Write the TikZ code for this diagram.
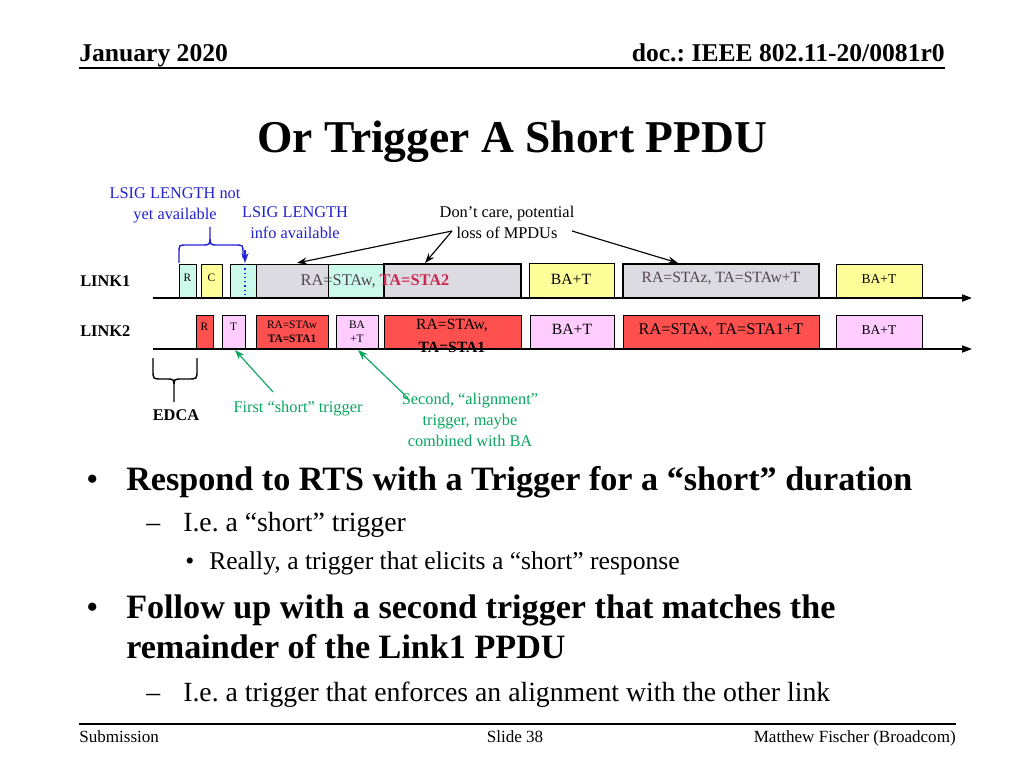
\documentclass[tikz,border=0pt]{standalone}
\usepackage{fontspec}
\setmainfont{Liberation Serif}
\usepackage{tikz}
\usetikzlibrary{arrows.meta}
\definecolor{cyanfill}{RGB}{204,250,234}
\definecolor{yellowfill}{RGB}{255,255,153}
\definecolor{grayfill}{RGB}{221,219,226}
\definecolor{redfill}{RGB}{255,80,80}
\definecolor{pinkfill}{RGB}{255,204,255}
\definecolor{notblue}{RGB}{34,34,210}
\definecolor{notgreen}{RGB}{10,165,95}
\definecolor{stared}{RGB}{204,40,80}
\definecolor{txtgray}{RGB}{80,70,80}
\frenchspacing

\begin{document}
\begin{tikzpicture}[x=0.703125pt,y=-0.703125pt,
  box/.style={draw=black,line width=0.6pt},
  heavybox/.style={draw=black,line width=1.2pt},
  small/.style={inner sep=0pt,align=center,font=\fontsize{8}{10}\selectfont},
  lbl/.style={inner sep=0pt,align=center,font=\fontsize{11.5}{14.8}\selectfont},
  timeline/.style={line width=1pt,-{Triangle[length=7pt,width=5pt]}},
  callout/.style={line width=0.8pt,-{Stealth[length=7pt,width=5pt]}}]
  \useasboundingbox (0,0) rectangle (1024,768);
  \fill[white] (0,0) rectangle (1024,768);

  \node[anchor=base west,inner sep=0pt,font=\fontsize{18}{20}\selectfont\bfseries]
  (date) at (79,62) {January 2020};
  \node[anchor=base east,inner sep=0pt,font=\fontsize{18}{20}\selectfont\bfseries]
  (doc) at (945,62) {doc.: IEEE 802.11-20/0081r0};
  \draw[line width=1.4pt] (79,68) -- (945,68);
  \node[anchor=base,inner sep=0pt,font=\fontsize{32}{36}\selectfont\bfseries]
  (title) at (512,153) {Or Trigger A Short PPDU};

  \draw[box,fill=cyanfill] (179,264) rectangle (196,298);
  \draw[box,fill=yellowfill] (201,264) rectangle (222,298);
  \draw[box,fill=cyanfill] (230,264) rectangle (521,298);
  \draw[box,fill=grayfill] (256,264) rectangle (328,298);
  \draw[heavybox,fill=grayfill] (384,264) rectangle (521,298);
  \draw[box,fill=yellowfill] (529,263) rectangle (614,298);
  \draw[heavybox,fill=grayfill] (623,264) rectangle (819,298);
  \draw[box,fill=yellowfill] (836,264) rectangle (922,298);
  \draw[notblue,dotted,line width=1pt] (245,264) -- (245,298);
  \node[small] (r1) at (187.5,278) {R};
  \node[small] (c1) at (211.5,278) {C};
  \node[lbl,text=txtgray] (ppdu1) at (375,281)
  {RA=STAw, \textcolor{stared}{\bfseries TA=STA2}};
  \node[lbl,font=\fontsize{11}{13}\selectfont] (ba1) at (571,279) {BA+T};
  \node[lbl,text=txtgray,font=\fontsize{11}{13}\selectfont] (ppdu2) at (721,279)
  {RA=STAz, TA=STAw+T};
  \node[lbl,font=\fontsize{9.5}{12}\selectfont] (ba2) at (879,279) {BA+T};

  \draw[box,fill=redfill] (196,315) rectangle (213,349);
  \draw[box,fill=pinkfill] (222,315) rectangle (245,349);
  \draw[box,fill=redfill] (256,315) rectangle (328,349);
  \draw[box,fill=pinkfill] (336,315) rectangle (378,349);
  \draw[box,fill=redfill] (384,315) rectangle (521,349);
  \draw[box,fill=pinkfill] (530,315) rectangle (614,349);
  \draw[box,fill=redfill] (623,315) rectangle (819,349);
  \draw[box,fill=pinkfill] (836,315) rectangle (922,349);
  \node[small] (r2) at (204.5,327) {R};
  \node[small] (t2) at (233.5,327) {T};
  \node[small] (ppdu3) at (292,332) {RA=STAw\\\bfseries TA=STA1};
  \node[small] (ba3) at (357,332) {BA\\+T};
  \node[lbl,font=\fontsize{11}{16.5}\selectfont] (ppdu4) at (452,336)
  {RA=STAw,\\\bfseries TA=STA1};
  \node[lbl,font=\fontsize{11}{13}\selectfont] (ba4) at (572,329) {BA+T};
  \node[lbl] (ppdu5) at (721,330) {RA=STAx, TA=STA1+T};
  \node[lbl,font=\fontsize{9.5}{12}\selectfont] (ba5) at (879,330) {BA+T};

  \draw[timeline] (153,298) -- (972,298);
  \draw[timeline] (153,349) -- (972,349);
  \node[lbl,anchor=west,font=\fontsize{11.5}{14}\selectfont\bfseries]
  (link1) at (80,281) {LINK1};
  \node[lbl,anchor=west,font=\fontsize{11.5}{14}\selectfont\bfseries]
  (link2) at (80,331) {LINK2};

  \node[lbl,text=notblue] (notyet) at (175,205.5) {LSIG LENGTH not\\yet available};
  \node[lbl,text=notblue] (info) at (295,222.5) {LSIG LENGTH\\info available};
  \node[lbl] (dontcare) at (507,222.5) {Don’t care, potential\\loss of MPDUs};
  \node[lbl,text=notgreen] (first) at (298,409) {First “short” trigger};
  \node[lbl,text=notgreen] (second) at (470,420)
  {Second, “alignment”\\trigger, maybe\\combined with BA};
  \node[lbl,font=\fontsize{11.5}{14}\selectfont\bfseries] (edca) at (176,415) {EDCA};

  \draw[notblue,line width=1pt]
  (179,263) -- (179,253) .. controls (179,245) .. (187,245)
  -- (202,245) .. controls (210,245) .. (210,236) -- (210,227)
  (210,236) .. controls (210,245) .. (218,245)
  -- (235,245) .. controls (243,245) .. (243,253) -- (243,258);
  \draw[line width=1pt]
  (153,358) -- (153,370) .. controls (153,379) .. (162,379)
  -- (166,379) .. controls (174,379) .. (174,387) -- (174,402)
  (174,387) .. controls (174,379) .. (182,379)
  -- (188,379) .. controls (197,379) .. (197,370) -- (197,358);

  \coordinate (infotip) at (245,263);
  \coordinate (dcl) at (452,231);
  \coordinate (dcr) at (572,231);
  \coordinate (firsttail) at (273,392);
  \coordinate (secondtail) at (408,398);
  \draw[callout,notblue] (245,250) -- (infotip);
  \draw[callout] (dcl) -- (297,263);
  \draw[callout] (dcl) -- (425,263);
  \draw[callout] (dcr) -- (678,263);
  \draw[callout,notgreen] (firsttail) -- (235,350);
  \draw[callout,notgreen] (secondtail) -- (358,350);

  \node[anchor=base west,inner sep=0pt,font=\fontsize{24}{28}\selectfont]
  (b1) at (86,490) {•};
  \node[anchor=base west,inner sep=0pt,font=\fontsize{24}{28}\selectfont\bfseries]
  (l1) at (126,490) {Respond to RTS with a Trigger for a “short” duration};
  \node[anchor=base west,inner sep=0pt,font=\fontsize{19.5}{24}\selectfont]
  (d1) at (146,531) {–};
  \node[anchor=base west,inner sep=0pt,font=\fontsize{19.5}{24}\selectfont]
  (l2) at (183,531) {I.e. a “short” trigger};
  \node[anchor=base west,inner sep=0pt,font=\fontsize{18}{22}\selectfont]
  (b2) at (185,569) {•};
  \node[anchor=base west,inner sep=0pt,font=\fontsize{18}{22}\selectfont]
  (l3) at (209,569) {Really, a trigger that elicits a “short” response};
  \node[anchor=base west,inner sep=0pt,font=\fontsize{24}{28}\selectfont]
  (b3) at (86,618) {•};
  \node[anchor=base west,inner sep=0pt,font=\fontsize{24}{28}\selectfont\bfseries]
  (l4) at (126,618) {Follow up with a second trigger that matches the};
  \node[anchor=base west,inner sep=0pt,font=\fontsize{24}{28}\selectfont\bfseries]
  (l5) at (126,658) {remainder of the Link1 PPDU};
  \node[anchor=base west,inner sep=0pt,font=\fontsize{19.5}{24}\selectfont]
  (d2) at (146,701) {–};
  \node[anchor=base west,inner sep=0pt,font=\fontsize{19.5}{24}\selectfont]
  (l6) at (183,701) {I.e. a trigger that enforces an alignment with the other link};

  \draw[line width=1pt] (79,724) -- (956,724);
  \node[anchor=base west,inner sep=0pt,font=\fontsize{12}{14}\selectfont]
  (sub) at (79,742) {Submission};
  \node[anchor=base,inner sep=0pt,font=\fontsize{12}{14}\selectfont]
  (slide) at (515,742) {Slide 38};
  \node[anchor=base east,inner sep=0pt,font=\fontsize{12}{14}\selectfont]
  (author) at (956,742) {Matthew Fischer (Broadcom)};
\end{tikzpicture}
\end{document}
